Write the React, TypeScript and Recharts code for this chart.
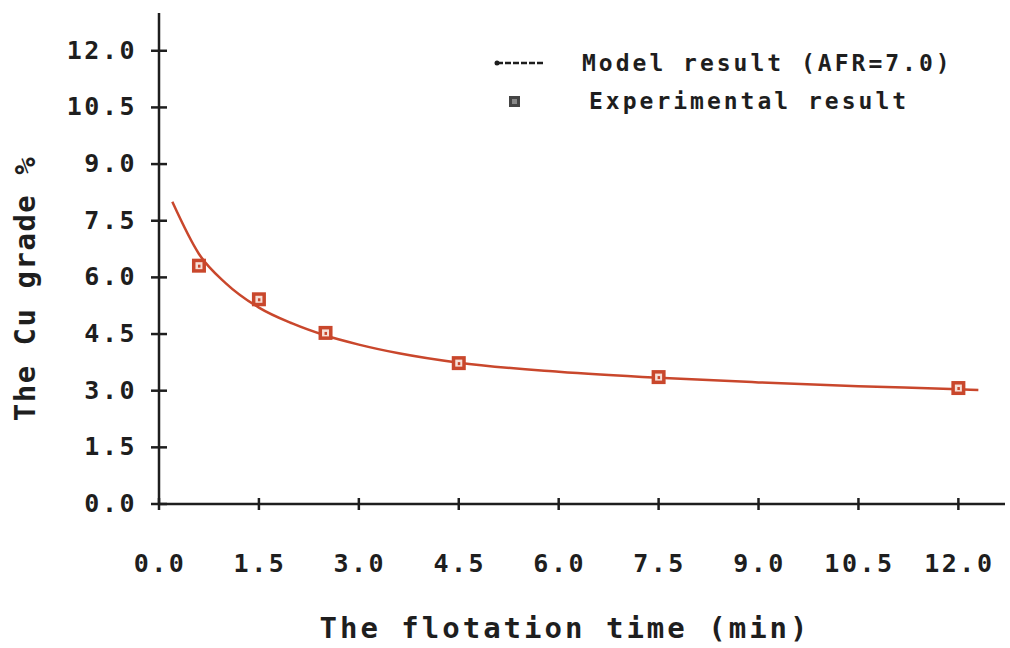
import React from "react";
import { ComposedChart, Line, Scatter, XAxis, YAxis } from "recharts";

const modelTime = [0.2, 0.6, 1.0, 1.5, 2.0, 2.5, 3.0, 3.6, 4.5, 6.0, 7.5, 9.0, 10.5, 12.0, 12.3];
const modelGrade = [8.0, 6.62, 5.85, 5.2, 4.78, 4.46, 4.22, 3.99, 3.74, 3.5, 3.34, 3.22, 3.12, 3.04, 3.02];
const expTime = [0.6, 1.5, 2.5, 4.5, 7.5, 12.0];
const expGrade = [6.31, 5.42, 4.53, 3.73, 3.36, 3.07];
const xTicks = [0, 1.5, 3.0, 4.5, 6.0, 7.5, 9.0, 10.5, 12.0];
const yTicks = [0, 1.5, 3.0, 4.5, 6.0, 7.5, 9.0, 10.5, 12.0];

const modelData = modelTime.map((t, i) => ({ t, y: modelGrade[i] }));
const expData = expTime.map((t, i) => ({ t, y: expGrade[i] }));

const RED = "#c9472c";
const INK = "#1e1e1e";
const FONT = "'DejaVu Sans Mono', monospace";

const YTick = (props: any) => {
  const { x, y, payload } = props;
  return (
    <g>
      <line x1={x - 8} x2={x + 8} y1={y} y2={y} stroke={INK} strokeWidth={2.5} />
      <text x={x - 22} y={y + 8} textAnchor="end" fontFamily={FONT} fontWeight="bold" fontSize={25} letterSpacing={2.5} fill={INK}>
        {payload.value.toFixed(1)}
      </text>
    </g>
  );
};

const XTick = (props: any) => {
  const { x, y, payload } = props;
  return (
    <g>
      <line x1={x} x2={x} y1={y - 6} y2={y + 6} stroke={INK} strokeWidth={2.5} />
      <text x={x + 1} y={y + 68} textAnchor="middle" fontFamily={FONT} fontWeight="bold" fontSize={25} letterSpacing={2.5} fill={INK}>
        {payload.value.toFixed(1)}
      </text>
    </g>
  );
};

const ExpMarker = (props: any) => {
  const { cx, cy } = props;
  return (
    <g>
      <rect x={cx - 7} y={cy - 7} width={14} height={14} fill={RED} />
      <rect x={cx - 3.5} y={cy - 3.5} width={7} height={7} fill="#f6e0d8" />
      <rect x={cx - 1} y={cy - 1} width={2.5} height={3} fill={RED} />
    </g>
  );
};

const YTitle = (props: any) => {
  const { viewBox } = props;
  const x = viewBox.x - 34;
  const y = viewBox.y + viewBox.height / 2 + 30;
  return (
    <text x={x} y={y} transform={`rotate(-90, ${x}, ${y})`} textAnchor="middle" dominantBaseline="central" fontFamily={FONT} fontWeight="bold" fontSize={29} letterSpacing={1.5} fill={INK}>
      The Cu grade %
    </text>
  );
};

const LegendBox = () => (
  <div style={{ position: "absolute", left: 494, top: 44, width: 500, fontFamily: FONT, fontWeight: "bold", fontSize: 23, letterSpacing: 3, color: INK, lineHeight: "38px" }}>
    <div style={{ display: "flex", alignItems: "center" }}>
      <svg width={88} height={20}>
        <circle cx={3} cy={10} r={2.5} fill={INK} />
        <line x1={3} x2={50} y1={10} y2={10} stroke={INK} strokeWidth={2.5} strokeDasharray="6 2" />
      </svg>
      <span>Model result (AFR=7.0)</span>
    </div>
    <div style={{ display: "flex", alignItems: "center" }}>
      <svg width={95} height={20}>
        <rect x={15} y={5} width={11} height={11} fill="#444" />
        <rect x={18} y={8} width={5} height={5} fill="#888" />
      </svg>
      <span>Experimental result</span>
    </div>
  </div>
);

export default function App() {
  return (
    <div style={{ position: "absolute", left: 0, top: 0, width: 1010, height: 648, background: "#fff" }}>
      <ComposedChart width={1010} height={648} margin={{ top: 13, right: 5, bottom: 84, left: 59 }}>
        <XAxis
          type="number"
          dataKey="t"
          domain={[0, 12.7]}
          ticks={xTicks}
          allowDataOverflow
          interval={0}
          height={60}
          tickSize={0}
          tickMargin={0}
          tick={<XTick />}
          axisLine={{ stroke: INK, strokeWidth: 2.5 }}
          tickLine={false}
          label={{ value: "The flotation time (min)", position: "insideBottom", offset: -74, dx: -17, style: { fontFamily: FONT, fontSize: 29, letterSpacing: 3, fill: INK, fontWeight: "bold" } }}
        />
        <YAxis
          type="number"
          dataKey="y"
          domain={[0, 13]}
          ticks={yTicks}
          allowDataOverflow
          interval={0}
          width={100}
          tickSize={0}
          tickMargin={0}
          tick={<YTick />}
          axisLine={{ stroke: INK, strokeWidth: 2.5 }}
          tickLine={false}
          label={<YTitle />}
        />
        <Line data={modelData} dataKey="y" type="monotone" stroke={RED} strokeWidth={2.5} dot={false} isAnimationActive={false} legendType="none" />
        <Scatter data={expData} dataKey="y" shape={<ExpMarker />} isAnimationActive={false} legendType="none" />
      </ComposedChart>
      <LegendBox />
    </div>
  );
}
